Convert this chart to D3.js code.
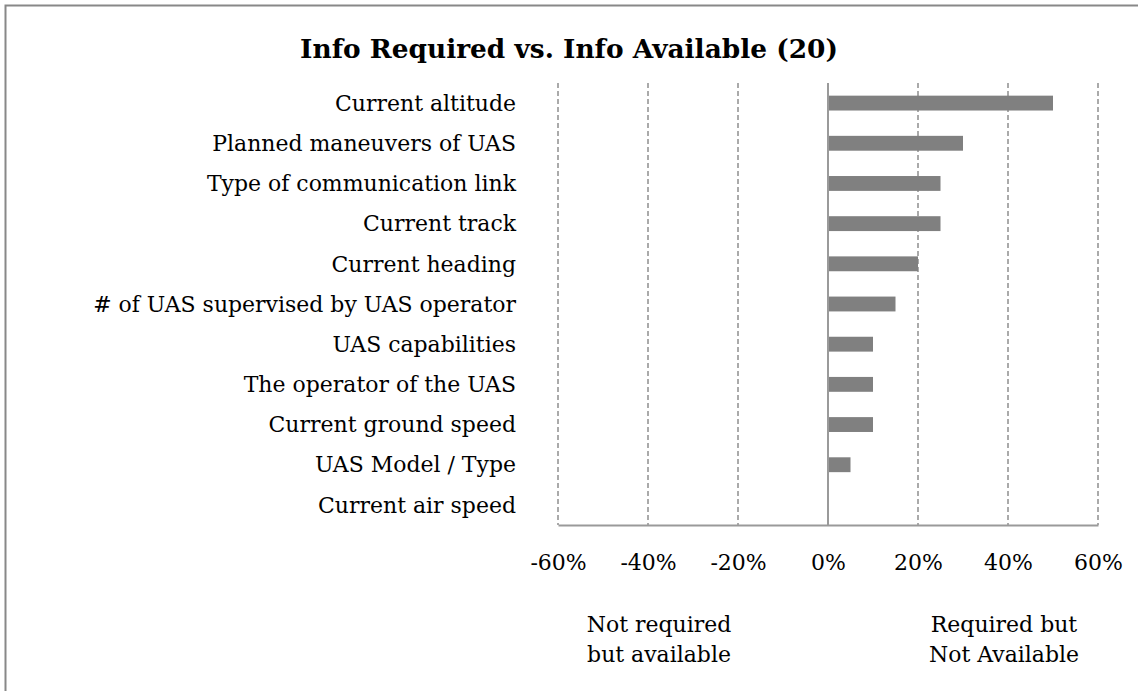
<!DOCTYPE html>
<html>
<head>
<meta charset="utf-8">
<script src="https://cdn.jsdelivr.net/npm/d3@7"></script>
<style>
  html, body { margin: 0; padding: 0; background: #fff; }
  svg { display: block; }
</style>
</head>
<body>
<script>
const title = "Info Required vs. Info Available (20)";
const categories = [
  "Current altitude",
  "Planned maneuvers of UAS",
  "Type of communication link",
  "Current track",
  "Current heading",
  "# of UAS supervised by UAS operator",
  "UAS capabilities",
  "The operator of the UAS",
  "Current ground speed",
  "UAS Model / Type",
  "Current air speed"
];
const values = [0.50, 0.30, 0.25, 0.25, 0.20, 0.15, 0.10, 0.10, 0.10, 0.05, 0.00];
const tickValues = [-0.6, -0.4, -0.2, 0, 0.2, 0.4, 0.6];
const noteLeft = ["Not required", "but available"];
const noteRight = ["Required but", "Not Available"];

const W = 1138, H = 691;
const FONT = "'DejaVu Serif', 'Liberation Serif', serif";

const svg = d3.select("body").append("svg")
  .attr("width", W).attr("height", H);

// measure helper to match reference text widths
function fitSize(text, target, weight) {
  const t = svg.append("text").attr("font-family", FONT)
    .attr("font-weight", weight || "normal").attr("font-size", 100).text(text);
  const w = t.node().getComputedTextLength();
  t.remove();
  return 100 * target / w;
}
const bodySize = fitSize("Current altitude", 181);
const titleSize = fitSize(title, 538, "bold");

// outer border (right/bottom cut off)
svg.append("rect")
  .attr("x", 5.5).attr("y", 5.5).attr("width", 1300).attr("height", 900)
  .attr("fill", "none").attr("stroke", "#888888").attr("stroke-width", 2);

const x = d3.scaleLinear().domain([-0.6, 0.6]).range([558, 1098]);
const y = d3.scaleBand().domain(categories).range([83, 525]).paddingInner(0.63).paddingOuter(0.315);

// gridlines
svg.append("g").selectAll("line")
  .data(tickValues.filter(d => d !== 0))
  .join("line")
  .attr("x1", d => x(d)).attr("x2", d => x(d))
  .attr("y1", 83).attr("y2", 525)
  .attr("stroke", "#8f8f8f")
  .attr("stroke-width", 1.5)
  .attr("stroke-dasharray", "5,3");

// bars
svg.append("g").selectAll("rect")
  .data(values.map((v, i) => ({ c: categories[i], v })))
  .join("rect")
  .attr("x", d => x(Math.min(0, d.v)))
  .attr("y", d => y(d.c))
  .attr("width", d => Math.abs(x(d.v) - x(0)))
  .attr("height", y.bandwidth())
  .attr("fill", "#808080");

// zero line on top of bars
svg.append("line")
  .attr("x1", x(0)).attr("x2", x(0)).attr("y1", 83).attr("y2", 525)
  .attr("stroke", "#9a9a9a").attr("stroke-width", 2);

// x axis
const pct = d3.format(".0%");
const xAxis = d3.axisBottom(x).tickValues(tickValues)
  .tickFormat(d => pct(d).replace("\u2212", "-")).tickSize(0).tickPadding(0);
const ax = svg.append("g").attr("transform", "translate(0,525)").call(xAxis);
ax.select(".domain").attr("stroke", "#9a9a9a").attr("stroke-width", 2);
ax.selectAll("text")
  .attr("font-family", FONT).attr("font-size", bodySize).attr("fill", "#000")
  .attr("dy", null).attr("y", 45);

// category labels
const yAxis = d3.axisLeft(y).tickSize(0).tickPadding(0);
const ay = svg.append("g").attr("transform", "translate(516,0)").call(yAxis);
ay.select(".domain").remove();
ay.selectAll("text")
  .attr("font-family", FONT).attr("font-size", bodySize).attr("fill", "#000")
  .attr("dy", "0.35em");

// title
svg.append("text")
  .attr("x", 569).attr("y", 58).attr("text-anchor", "middle")
  .attr("font-family", FONT).attr("font-weight", "bold").attr("font-size", titleSize)
  .attr("fill", "#000").text(title);

// notes
function note(lines, cx) {
  svg.append("g").selectAll("text").data(lines).join("text")
    .attr("x", cx).attr("y", (d, i) => 632 + i * 30)
    .attr("text-anchor", "middle")
    .attr("font-family", FONT).attr("font-size", bodySize).attr("fill", "#000")
    .text(d => d);
}
note(noteLeft, 659);
note(noteRight, 1004);
</script>
</body>
</html>
